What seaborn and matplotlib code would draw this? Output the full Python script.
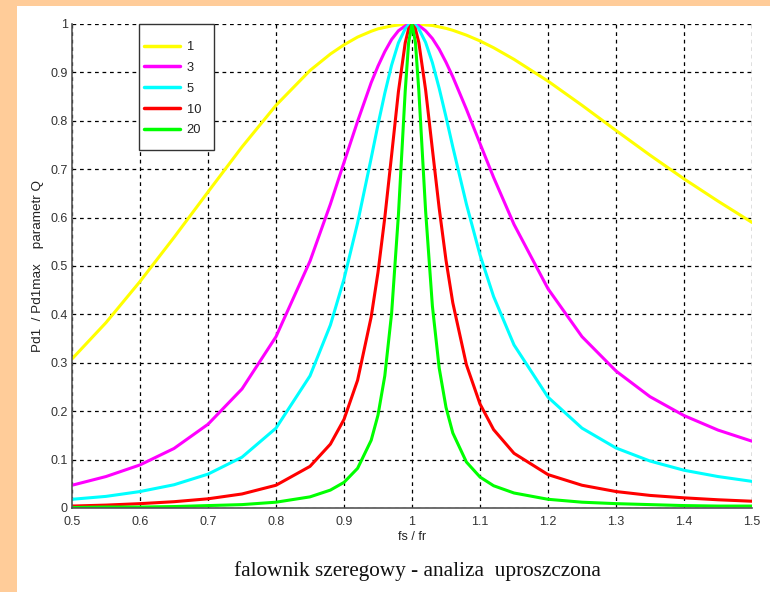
import matplotlib
matplotlib.use("Agg")
import matplotlib.pyplot as plt
import seaborn as sns
import pandas as pd
from matplotlib.patches import Rectangle

# frequency ratio fs/fr
x = [0.5, 0.55, 0.6, 0.65, 0.7, 0.75, 0.8, 0.85, 0.88, 0.9, 0.92, 0.94, 0.95, 0.96,
     0.97, 0.98, 0.99, 0.995, 1.0, 1.005, 1.01, 1.02, 1.03, 1.04, 1.05, 1.06, 1.08,
     1.1, 1.12, 1.15, 1.2, 1.25, 1.3, 1.35, 1.4, 1.45, 1.5]

q1 = [0.308, 0.383, 0.468, 0.559, 0.653, 0.746, 0.832, 0.904, 0.938, 0.957, 0.973,
      0.985, 0.990, 0.993, 0.996, 0.998, 1.0, 1.0, 1.0, 1.0, 1.0, 0.998, 0.997, 0.994,
      0.991, 0.987, 0.977, 0.965, 0.951, 0.927, 0.882, 0.832, 0.780, 0.729, 0.680,
      0.634, 0.590]
q3 = [0.047, 0.065, 0.089, 0.123, 0.173, 0.246, 0.354, 0.510, 0.628, 0.714, 0.799,
      0.879, 0.913, 0.943, 0.968, 0.986, 0.996, 0.999, 1.0, 0.999, 0.997, 0.986, 0.970,
      0.948, 0.921, 0.891, 0.824, 0.753, 0.683, 0.586, 0.453, 0.354, 0.283, 0.230,
      0.191, 0.161, 0.138]
q5 = [0.018, 0.024, 0.034, 0.048, 0.070, 0.105, 0.165, 0.273, 0.378, 0.473, 0.589,
      0.723, 0.792, 0.857, 0.915, 0.961, 0.990, 0.998, 1.0, 0.998, 0.990, 0.962, 0.920,
      0.867, 0.808, 0.746, 0.628, 0.523, 0.437, 0.337, 0.229, 0.165, 0.124, 0.097,
      0.078, 0.065, 0.055]
q10 = [0.004, 0.006, 0.009, 0.013, 0.019, 0.029, 0.047, 0.086, 0.132, 0.183, 0.264,
       0.395, 0.487, 0.600, 0.729, 0.860, 0.961, 0.990, 1.0, 0.990, 0.962, 0.864, 0.741,
       0.619, 0.512, 0.424, 0.296, 0.215, 0.162, 0.113, 0.069, 0.047, 0.034, 0.026,
       0.021, 0.017, 0.014]
q20 = [0.001, 0.002, 0.002, 0.003, 0.005, 0.007, 0.012, 0.023, 0.037, 0.053, 0.082,
       0.140, 0.192, 0.273, 0.402, 0.605, 0.861, 0.961, 1.0, 0.962, 0.863, 0.614, 0.417,
       0.289, 0.208, 0.155, 0.095, 0.064, 0.046, 0.031, 0.018, 0.012, 0.009, 0.007,
       0.005, 0.004, 0.004]

labels = ["1", "3", "5", "10", "20"]
series = [q1, q3, q5, q10, q20]
colors = ["#FFFF00", "#FF00FF", "#00FFFF", "#FF0000", "#00FF00"]

x_ticks = [0.5, 0.6, 0.7, 0.8, 0.9, 1.0, 1.1, 1.2, 1.3, 1.4, 1.5]
x_tick_labels = ["0.5", "0.6", "0.7", "0.8", "0.9", "1", "1.1", "1.2", "1.3", "1.4", "1.5"]
y_ticks = [0, 0.1, 0.2, 0.3, 0.4, 0.5, 0.6, 0.7, 0.8, 0.9, 1.0]
y_tick_labels = ["0", "0.1", "0.2", "0.3", "0.4", "0.5", "0.6", "0.7", "0.8", "0.9", "1"]

rows = []
for lab, vals in zip(labels, series):
    for xv, yv in zip(x, vals):
        rows.append({"x": xv, "y": yv, "Q": lab})
df = pd.DataFrame(rows)

sns.set_style("white")
plt.rcParams["font.family"] = ["Liberation Sans", "DejaVu Sans"]

W, H = 770, 592
fig = plt.figure(figsize=(7.7, 5.92), dpi=100, facecolor="#FFCC99")
fig.patches.append(Rectangle((17 / W, 0), 1, (H - 6) / H, transform=fig.transFigure,
                             facecolor="white", edgecolor="none", zorder=-1))
ax = fig.add_axes([72 / W, (H - 508) / H, (752 - 72) / W, (508 - 24) / H])
ax.set_facecolor("white")

sns.lineplot(data=df, x="x", y="y", hue="Q", hue_order=labels, palette=colors,
             linewidth=2.2, ax=ax, legend=True, sort=True, estimator=None)

ax.set_xlim(0.5, 1.5)
ax.set_ylim(0, 1)
ax.set_xticks(x_ticks)
ax.set_xticklabels(x_tick_labels)
ax.set_yticks(y_ticks)
ax.set_yticklabels(y_tick_labels)
ax.tick_params(axis="both", direction="in", length=5, labelsize=9, colors="#333333")
ax.tick_params(axis="x", pad=6)
ax.tick_params(axis="y", pad=3)
ax.grid(True, color="black", linestyle=(0, (3, 3)), linewidth=0.9)
for s in ["top", "right"]:
    ax.spines[s].set_visible(False)
for s in ["left", "bottom"]:
    ax.spines[s].set_color("#555555")
    ax.spines[s].set_linewidth(1.2)

ax.set_xlabel("fs / fr", fontsize=9, labelpad=2, color="#222222")
ax.set_ylabel("Pd1  / Pd1max    parametr Q", fontsize=9.7, labelpad=5, color="#222222")

# legend frame box (drawn separately so its padding matches the reference)
axw, axh = 680, 484
ax.add_patch(Rectangle((67 / axw, (508 - 150) / axh), 75 / axw, 126 / axh,
                       transform=ax.transAxes, facecolor="white", edgecolor="#333333",
                       linewidth=1.0, zorder=4.5, clip_on=False))
leg = ax.legend(loc="upper left", bbox_to_anchor=((144 - 72) / axw, (508 - 41) / axh),
                frameon=False, fontsize=9.3, title=None, handlelength=2.8,
                borderpad=0, borderaxespad=0, labelspacing=0.68, handletextpad=0.5)
leg.set_zorder(5)
for line in leg.get_lines():
    line.set_linewidth(2.5)
for t in leg.get_texts():
    t.set_color("#222222")

fig.text(417 / W, (H - 576) / H, "falownik szeregowy - analiza  uproszczona",
         ha="center", va="baseline", fontsize=15.3, color="#111111",
         family=["Liberation Serif", "DejaVu Serif"])

fig.savefig("out.png", dpi=100, facecolor=fig.get_facecolor())
